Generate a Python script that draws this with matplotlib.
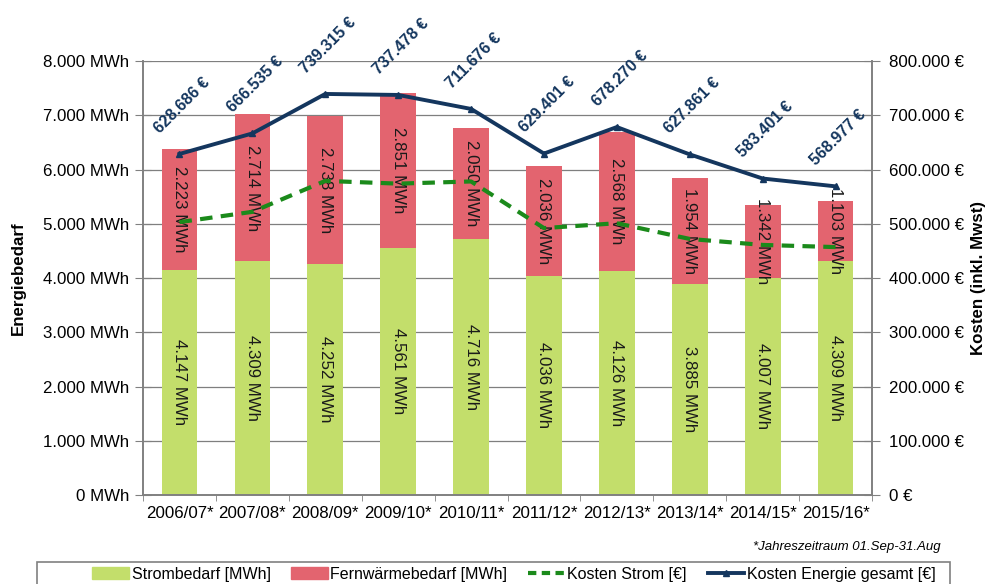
import matplotlib
matplotlib.use("Agg")
import matplotlib.pyplot as plt
from matplotlib.lines import Line2D
from matplotlib.patches import Patch, Rectangle
import numpy as np

plt.rcParams['font.family'] = ['Liberation Sans', 'DejaVu Sans']

categories = ["2006/07*", "2007/08*", "2008/09*", "2009/10*", "2010/11*",
              "2011/12*", "2012/13*", "2013/14*", "2014/15*", "2015/16*"]
strom_mwh = [4147, 4309, 4252, 4561, 4716, 4036, 4126, 3885, 4007, 4309]
fernwaerme_mwh = [2223, 2714, 2738, 2851, 2050, 2036, 2568, 1954, 1342, 1103]
kosten_strom = [503000, 522000, 579000, 574000, 578000, 492000, 501000, 472000, 461000, 457000]
kosten_gesamt = [628686, 666535, 739315, 737478, 711676, 629401, 678270, 627861, 583401, 568977]

def de(n):
    return f"{n:,.0f}".replace(",", ".")

GREEN = "#C3DE6B"
RED = "#E3646F"
DGREEN = "#1B8A1B"
NAVY = "#14365E"
FS = 12.2

fig = plt.figure(figsize=(9.87, 5.84), dpi=100)
ax = fig.add_axes([0.1449, 0.1524, 0.7386, 0.7431])
ax2 = ax.twinx()

x = np.arange(len(categories))
w = 0.49
ax.bar(x, strom_mwh, w, color=GREEN, zorder=2)
ax.bar(x, fernwaerme_mwh, w, bottom=strom_mwh, color=RED, zorder=2)

for i in range(len(x)):
    ax.text(x[i], strom_mwh[i] / 2, f"{de(strom_mwh[i])} MWh", rotation=270,
            ha='center', va='center', fontsize=FS, color='#1a1a1a', zorder=3,
            rotation_mode='anchor')
    ax.text(x[i], strom_mwh[i] + fernwaerme_mwh[i] / 2, f"{de(fernwaerme_mwh[i])} MWh",
            rotation=270, ha='center', va='center', fontsize=FS, color='#1a1a1a', zorder=3,
            rotation_mode='anchor')

ax.set_ylim(0, 8000)
ax.set_xlim(-0.5, len(x) - 0.5)
ax.set_yticks(range(0, 8001, 1000))
ax.set_yticklabels([f"{de(v)} MWh" for v in range(0, 8001, 1000)], fontsize=FS)
ax.set_xticks(x)
ax.set_xticklabels(categories, fontsize=FS)
ax.set_xticks(np.arange(-0.5, len(x), 1.0), minor=True)
ax.tick_params(axis='x', which='major', length=0, pad=8)
ax.tick_params(axis='x', which='minor', length=4, color='#808080', direction='out')
ax.tick_params(axis='y', length=12, color='#808080', direction='inout', pad=4)
ax.grid(axis='y', color='#7f7f7f', linewidth=0.9, zorder=0)
ax.set_axisbelow(True)
ax.set_ylabel("Energiebedarf", fontsize=FS, fontweight='bold', labelpad=12)

ax2.set_ylim(0, 800000)
ax2.set_yticks(range(0, 800001, 100000))
ax2.set_yticklabels([f"{de(v)} €" for v in range(0, 800001, 100000)], fontsize=FS)
ax2.tick_params(axis='y', length=12, color='#808080', direction='inout', pad=6)
ax2.set_ylabel("Kosten (inkl. Mwst)", fontsize=FS, fontweight='bold', labelpad=5)

ax2.plot(x, kosten_strom, color=DGREEN, linestyle=(0, (3, 2)), linewidth=3, zorder=4)
ax2.plot(x, kosten_gesamt, color=NAVY, linewidth=2.8, marker='^', markersize=5, zorder=5)

for i in range(len(x)):
    ax2.annotate(f"{de(kosten_gesamt[i])} €", (x[i], kosten_gesamt[i]),
                 xytext=(2, 35), textcoords='offset points', rotation=45,
                 ha='center', va='center', fontsize=11.5, fontweight='bold', color=NAVY,
                 annotation_clip=False)

for a in (ax, ax2):
    a.spines['top'].set_visible(False)
    for s in ['left', 'right', 'bottom']:
        a.spines[s].set_color('#808080')
        a.spines[s].set_linewidth(1.2)

fig.text(0.953, 0.063, "*Jahreszeitraum 01.Sep-31.Aug", ha='right', va='center',
         fontsize=9.5, style='italic')

handles = [Patch(color=GREEN), Patch(color=RED),
           Line2D([], [], color=DGREEN, linestyle=(0, (2, 1.3)), linewidth=3),
           Line2D([], [], color=NAVY, linewidth=2.8, marker='^', markersize=5)]
labels = ["Strombedarf [MWh]", "Fernwärmebedarf [MWh]", "Kosten Strom [€]",
          "Kosten Energie gesamt [€]"]
leg = fig.legend(handles, labels, loc='center', bbox_to_anchor=(514 / 987, 1 - 574 / 584),
                 ncol=4, fontsize=11.5, frameon=False,
                 handlelength=2.3, columnspacing=1.3, handleheight=0.8,
                 handletextpad=0.15, borderpad=0.0)
fig.add_artist(Rectangle((37 / 987, -0.05), (950 - 37) / 987, 0.05 + (584 - 562) / 584,
                         transform=fig.transFigure, fill=False, edgecolor='#808080',
                         linewidth=1.2))

fig.savefig("out.png", dpi=100)
